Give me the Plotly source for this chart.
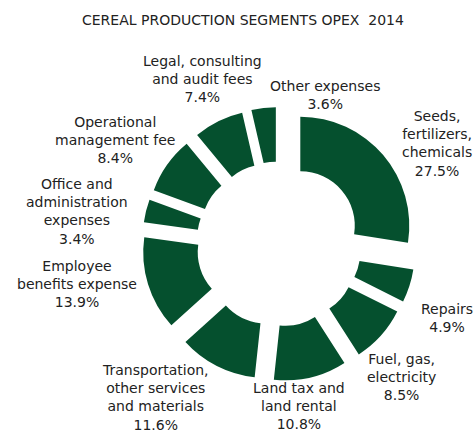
import plotly.graph_objects as go

# ---- data ----
labels = [
    "Seeds,<br>fertilizers,<br>chemicals",
    "Repairs",
    "Fuel, gas,<br>electricity",
    "Land tax and<br>land rental",
    "Transportation,<br>other services<br>and materials",
    "Employee<br>benefits expense",
    "Office and<br>administration<br>expenses",
    "Operational<br>management fee",
    "Legal, consulting<br>and audit fees",
    "Other expenses",
]
values = [27.5, 4.9, 8.5, 10.8, 11.6, 13.9, 3.4, 8.4, 7.4, 3.6]
title_text = "CEREAL PRODUCTION SEGMENTS OPEX  2014"

# ---- layout / style ----
W, H = 474, 432
GREEN = "#05502E"
TEXT = "#222222"
FONT = "DejaVu Sans, Verdana, sans-serif"

# label block centres in pixels (x, y from top)
label_pos = [
    (437, 144), (447, 317.5), (401, 376.5), (299, 405.5), (155, 397),
    (77, 283.5), (77, 212), (115, 140.5), (202, 79), (325, 95),
]

cx, cy, r, pull = 279, 244, 109, 0.257
box = 2 * r * (1 + pull)
dom_x = [(cx - box / 2) / W, (cx + box / 2) / W]
dom_y = [(H - cy - box / 2) / H, (H - cy + box / 2) / H]

fig = go.Figure(
    go.Pie(
        labels=labels,
        values=values,
        hole=0.5,
        sort=False,
        direction="clockwise",
        rotation=0,
        pull=[pull] * len(values),
        marker=dict(colors=[GREEN] * len(values), line=dict(width=0)),
        textinfo="none",
        hoverinfo="label+percent",
        domain=dict(x=dom_x, y=dom_y),
        showlegend=False,
    )
)

annotations = [
    dict(
        text=title_text, x=243 / W, y=1 - 20 / H, xref="paper", yref="paper",
        xanchor="center", yanchor="middle", showarrow=False,
        font=dict(family=FONT, size=14, color=TEXT),
    )
]
for lab, val, (px, py) in zip(labels, values, label_pos):
    annotations.append(
        dict(
            text=f"{lab}<br>{val:.1f}%", x=px / W, y=1 - py / H,
            xref="paper", yref="paper", xanchor="center", yanchor="middle",
            showarrow=False, align="center",
            font=dict(family=FONT, size=14, color=TEXT),
        )
    )

fig.update_layout(
    width=W, height=H,
    margin=dict(l=0, r=0, t=0, b=0),
    paper_bgcolor="white", plot_bgcolor="white",
    annotations=annotations,
)

fig.write_html(
    "out.html",
    config={"displayModeBar": False},
    post_script="document.body.style.margin='0';document.body.style.overflow='hidden';",
)
